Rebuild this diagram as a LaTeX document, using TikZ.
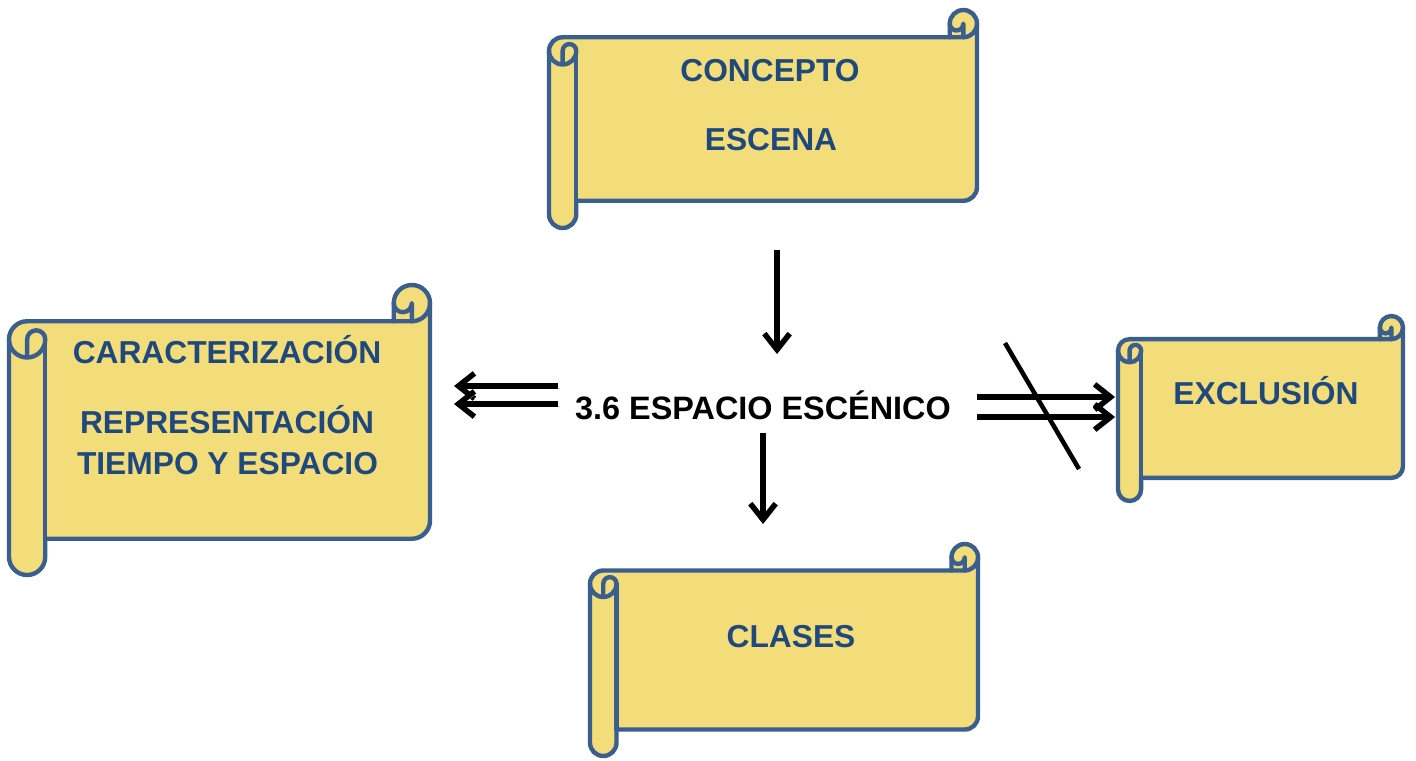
\documentclass[tikz,border=0pt]{standalone}
\usepackage{fontspec}
\setmainfont{Liberation Sans}
\usetikzlibrary{arrows.meta}
\definecolor{scrollfill}{HTML}{F3DD7A}
\definecolor{scrollblue}{HTML}{3A5F8F}
\definecolor{labelblue}{HTML}{1F497D}
\tikzset{
  scrollbody/.style={fill=scrollfill, draw=scrollblue, line width=3.3pt, line join=round, line cap=round},
  scrollline/.style={draw=scrollblue, line width=3.3pt, line join=round, line cap=round},
  label/.style={anchor=base, inner sep=0pt, text=labelblue, font=\fontsize{23.8}{28}\selectfont\bfseries},
  centerlabel/.style={anchor=base, inner sep=0pt, text=black, font=\fontsize{24.3}{28}\selectfont\bfseries},
  arrowline/.style={line width=4.1pt, -{Straight Barb[length=12pt,width=19pt]},
    preaction={draw=black!20, transform canvas={shift={(1.4pt,-1.6pt)}}}},
  slashline/.style={line width=3.4pt,
    preaction={draw=black!20, transform canvas={shift={(1.4pt,-1.6pt)}}}}
}
\newcommand\scrollshape[5]{% name, l, t, r, b (pixel units, y down)
  \pgfmathsetmacro\sL{#2}\pgfmathsetmacro\sT{#3}%
  \pgfmathsetmacro\sR{#4}\pgfmathsetmacro\sB{#5}%
  \pgfmathsetmacro\sC{0.125*min(#4-#2,#5-#3)}%
  \pgfmathsetmacro\sCb{\sC/2}\pgfmathsetmacro\sCc{\sC/4}%
  \draw[scrollbody]
    (\sL,\sT+1.5*\sC) arc[start angle=180, delta angle=90, radius=\sCb]
    -- (\sR-\sC,\sT+\sC) -- (\sR-\sC,\sT+\sCb)
    arc[start angle=180, delta angle=180, radius=\sCb]
    -- (\sR,\sB-1.5*\sC)
    arc[start angle=0, delta angle=90, radius=\sCb]
    -- (\sL+\sC,\sB-\sC) -- (\sL+\sC,\sB-\sCb)
    arc[start angle=0, delta angle=180, radius=\sCb]
    -- cycle;
  \draw[scrollline] (\sR-\sC,\sT+\sC) -- (\sR-\sCb,\sT+\sC)
    arc[start angle=90, delta angle=-90, radius=\sCb];
  \draw[scrollline] (\sR-\sCb,\sT+\sC) -- (\sR-\sCb,\sT+\sCb)
    arc[start angle=0, delta angle=180, radius=\sCc];
  \draw[scrollline] (\sL+\sCb,\sT+2*\sC) -- (\sL+\sCb,\sT+1.5*\sC)
    arc[start angle=180, delta angle=180, radius=\sCc]
    arc[start angle=0, delta angle=180, radius=\sCb];
  \draw[scrollline] (\sL+\sC,\sT+1.5*\sC) -- (\sL+\sC,\sB-\sC);
  \coordinate (#1) at ({(#2+#4)/2},{(#3+#5)/2});
}
\begin{document}
\begin{tikzpicture}[x=0.75pt, y=-0.75pt]
\useasboundingbox (0,0) rectangle (1416,760);

% scrolls
\scrollshape{concepto}{549}{10}{977}{228}
\scrollshape{caract}{9}{285}{430}{575}
\scrollshape{exclusion}{1118}{316}{1403}{501}
\scrollshape{clases}{590}{544}{978}{756}

% labels
\node[label] (t1) at (770,81) {CONCEPTO};
\node[label] (t2) at (771,150) {ESCENA};
\node[label] (t3) at (227,363) {CARACTERIZACIÓN};
\node[label] (t4) at (227,433) {REPRESENTACIÓN};
\node[label] (t5) at (227.5,474) {TIEMPO Y ESPACIO};
\node[label] (t6) at (1266,404) {EXCLUSIÓN};
\node[label] (t7) at (791,647) {CLASES};
\node[centerlabel] (centro) at (763,419) {3.6 ESPACIO ESCÉNICO};

% connector end points
\coordinate (a1s) at (777,250);
\coordinate (a1e) at (777,354);
\coordinate (a2s) at (763,433);
\coordinate (a2e) at (763,524);
\coordinate (a3s) at (558,386);
\coordinate (a3e) at (454,386);
\coordinate (a4s) at (558,404);
\coordinate (a4e) at (454,404);
\coordinate (a5s) at (977,397);
\coordinate (a5e) at (1115,397);
\coordinate (a6s) at (977,417);
\coordinate (a6e) at (1115,417);
\coordinate (s1) at (1005,343);
\coordinate (s2) at (1079,469);

\draw[arrowline] (a1s) -- (a1e);
\draw[arrowline] (a2s) -- (a2e);
\draw[arrowline] (a3s) -- (a3e);
\draw[arrowline] (a4s) -- (a4e);
\draw[arrowline] (a5s) -- (a5e);
\draw[arrowline] (a6s) -- (a6e);
\draw[slashline] (s1) -- (s2);
\end{tikzpicture}
\end{document}
